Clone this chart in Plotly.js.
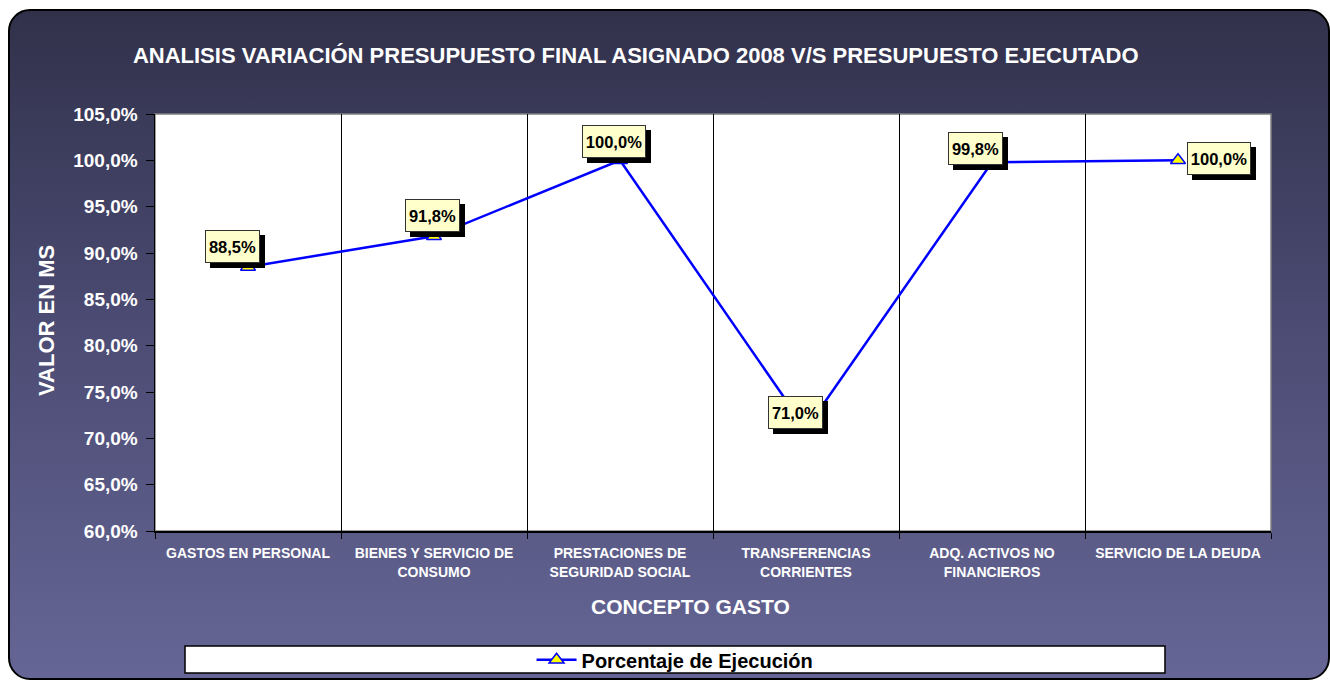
<!DOCTYPE html>
<html>
<head>
<meta charset="utf-8">
<script src="https://cdn.plot.ly/plotly-3.0.1.min.js"></script>
<style>
  body { margin: 0; background: #ffffff; }
  #frame {
    position: absolute; left: 8px; top: 9px; width: 1318px; height: 667px;
    border: 2px solid #000; border-radius: 22px;
    background: linear-gradient(to bottom, #31314b 0%, #4a4a72 45%, #666696 100%);
  }
  #plot { position: absolute; left: 0; top: 0; width: 1330px; height: 680px; }
</style>
</head>
<body>
<div id="frame"></div>
<div id="plot"></div>
<script>
// categorias y valores (%)
const categorias = [
  "GASTOS EN PERSONAL",
  "BIENES Y SERVICIO DE<br>CONSUMO",
  "PRESTACIONES DE<br>SEGURIDAD SOCIAL",
  "TRANSFERENCIAS<br>CORRIENTES",
  "ADQ. ACTIVOS NO<br>FINANCIEROS",
  "SERVICIO DE LA DEUDA"
];
const porcentaje = [88.5, 91.8, 100.0, 71.0, 99.8, 100.0];
const yTicks = [60, 65, 70, 75, 80, 85, 90, 95, 100, 105];

// desplazamiento de las etiquetas (px)
const labelDx = [-16, -2, -6, -11, -17, 41];
const labelDy = [20, 21, 19, 17, 14, 2];

const fuente = "Arial, 'Liberation Sans', sans-serif";

function fmt(v) { return v.toFixed(1).replace(".", ",") + "%"; }
function anchoEtiqueta(v) { return fmt(v).length > 5 ? 56 : 47; }

let data = [{
  x: categorias,
  y: porcentaje,
  type: 'scatter',
  mode: 'lines+markers',
  name: '<b>Porcentaje de Ejecución</b>',
  line: { color: '#0000ff', width: 2.5 },
  marker: { symbol: 'triangle-up', size: 13, color: '#ffff00', line: { color: '#0000ff', width: 1.5 } },
  hoverinfo: 'skip'
}];

let anotaciones = [];
// sombras de las etiquetas (cajas negras sin texto)
porcentaje.forEach(function (v, i) {
  anotaciones.push({
    x: i, y: v, xref: 'x', yref: 'y', text: '&nbsp;', showarrow: false,
    xshift: labelDx[i] + 5, yshift: labelDy[i] - 5, height: 25, width: anchoEtiqueta(v),
    font: { family: fuente, size: 16.5, color: '#000' },
    bgcolor: '#000', bordercolor: '#000', borderwidth: 1, borderpad: 3
  });
});
porcentaje.forEach(function (v, i) {
  anotaciones.push({
    x: i, y: v, xref: 'x', yref: 'y', text: '<b>' + fmt(v) + '</b>', showarrow: false,
    xshift: labelDx[i], yshift: labelDy[i], height: 25, width: anchoEtiqueta(v),
    font: { family: fuente, size: 16.5, color: '#000' },
    bgcolor: '#ffffcc', bordercolor: '#333', borderwidth: 1, borderpad: 3
  });
});
anotaciones.push({
  xref: 'paper', yref: 'paper', x: 0.48, y: -0.182, showarrow: false, yanchor: 'middle',
  text: '<b>CONCEPTO GASTO</b>', font: { family: fuente, size: 21, color: '#fff' }
});
anotaciones.push({
  xref: 'paper', yref: 'paper', x: -0.0968, y: 0.506, showarrow: false, textangle: -90,
  xanchor: 'center', yanchor: 'middle',
  text: '<b>VALOR EN MS</b>', font: { family: fuente, size: 22, color: '#fff' }
});

let layout = {
  width: 1330,
  height: 680,
  margin: { l: 155, r: 59, t: 114, b: 149, autoexpand: false },
  paper_bgcolor: 'rgba(0,0,0,0)',
  plot_bgcolor: '#ffffff',
  font: { family: fuente, color: '#fff' },
  title: {
    text: '<b>ANALISIS VARIACIÓN PRESUPUESTO FINAL ASIGNADO 2008 V/S PRESUPUESTO EJECUTADO</b>',
    font: { family: fuente, size: 22, color: '#fff' },
    x: 0.478, xanchor: 'center', y: 1 - 55 / 680, yanchor: 'middle'
  },
  xaxis: {
    type: 'category',
    automargin: false,
    tickson: 'boundaries',
    showgrid: true, gridcolor: '#000', gridwidth: 1,
    ticks: 'outside', ticklen: 6, tickcolor: '#000',
    showline: true, linecolor: '#000', linewidth: 1.5,
    tickfont: { family: fuente, size: 14, color: '#fff' },
    tickprefix: '<b>', ticksuffix: '</b>',
    ticklabelstandoff: 9,
    range: [-0.5, 5.5], fixedrange: true
  },
  yaxis: {
    automargin: false,
    range: [60, 105],
    tickvals: yTicks,
    ticktext: yTicks.map(function (v) { return '<b>' + fmt(v) + '</b>'; }),
    showgrid: false, zeroline: false,
    ticks: 'outside', ticklen: 8, tickcolor: '#000',
    showline: true, linecolor: '#000', linewidth: 1.5,
    tickfont: { family: fuente, size: 19, color: '#fff' },
    ticklabelstandoff: 4,
    fixedrange: true
  },
  showlegend: true,
  legend: {
    orientation: 'h', x: 0.466, xanchor: 'center', y: -0.309, yanchor: 'middle',
    bgcolor: 'rgba(0,0,0,0)', borderwidth: 0, itemwidth: 40,
    font: { family: fuente, size: 20, color: '#000' }
  },
  shapes: [
    { type: 'rect', xref: 'paper', yref: 'paper', x0: 0, x1: 1, y0: 0, y1: 1,
      line: { color: '#808080', width: 1.5 }, layer: 'below' },
    { type: 'rect', xref: 'paper', yref: 'paper', x0: 0.0269, x1: 0.905, y0: -0.2758, y1: -0.3405,
      fillcolor: '#ffffff', line: { color: '#000', width: 1.5 }, layer: 'below' }
  ],
  annotations: anotaciones
};

let config = { displayModeBar: false, staticPlot: true };

Plotly.newPlot('plot', data, layout, config);
</script>
</body>
</html>
